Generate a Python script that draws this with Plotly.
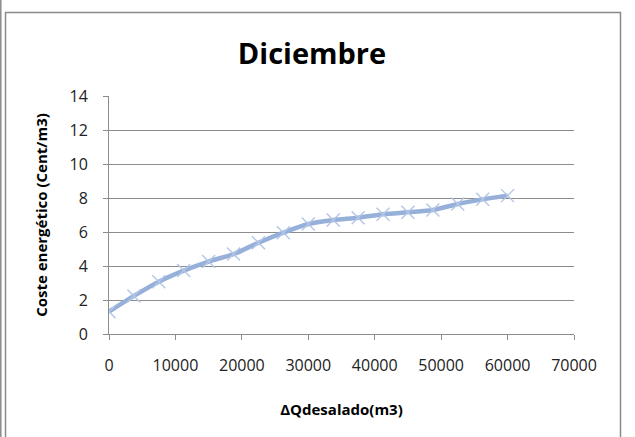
import plotly.graph_objects as go

# Desalinated volume increment (m3) and energy cost (cent/m3), December
q_desalado = [0, 3750, 7500, 11250, 15000, 18750, 22500, 26250, 30000,
              33750, 37500, 41250, 45000, 48750, 52500, 56250, 60000]
coste = [1.31, 2.24, 3.08, 3.73, 4.26, 4.70, 5.37, 5.96, 6.47,
         6.70, 6.84, 7.04, 7.16, 7.29, 7.65, 7.92, 8.14]

x_ticks = [0, 10000, 20000, 30000, 40000, 50000, 60000, 70000]
y_ticks = [0, 2, 4, 6, 8, 10, 12, 14]

W, H = 635, 437
L, R, T, B = 109, 61, 96, 103
PW, PH = W - L - R, H - T - B


def px(xp):
    return (xp - L) / PW


def py(yp):
    return (H - B - yp) / PH


FONT = "Open Sans"
GRID = "#8c8c8c"

fig = go.Figure()
fig.add_trace(go.Scatter(
    x=q_desalado, y=coste,
    mode="lines+markers",
    line=dict(color="#96b0da", width=4.5, shape="spline", smoothing=0.8),
    marker=dict(symbol="x-thin-open", size=13, color="#b3c6e6",
                line=dict(color="#b3c6e6", width=1.4)),
    showlegend=False,
))

fig.update_layout(
    width=W, height=H,
    margin=dict(l=L, r=R, t=T, b=B),
    paper_bgcolor="white", plot_bgcolor="white",
    font=dict(family=FONT, color="#222222", size=16),
    title=dict(text="<b>Diciembre</b>", x=px(312), xanchor="center",
               xref="paper", y=1 - 54 / H, yanchor="middle",
               font=dict(family=FONT, size=29, color="black")),
    xaxis=dict(
        range=[0, 70000], tickvals=x_ticks,
        ticktext=[str(v) for v in x_ticks],
        showgrid=False, zeroline=False,
        showline=True, linecolor=GRID, linewidth=1,
        ticks="outside", ticklen=5, tickcolor=GRID,
        ticklabelstandoff=12,
        tickfont=dict(size=16, color="#222222"),
        title=dict(text="<b>ΔQdesalado(m3)</b>", standoff=29,
                   font=dict(size=15, color="black")),
    ),
    yaxis=dict(
        range=[0, 14], tickvals=y_ticks,
        showgrid=True, gridcolor=GRID, gridwidth=1,
        zeroline=False,
        showline=True, linecolor=GRID, linewidth=1,
        ticks="outside", ticklen=5, tickcolor=GRID,
        ticklabelstandoff=12,
        tickfont=dict(size=16, color="#222222"),
        title=dict(text="<b>Coste energético (Cent/m3)</b>", standoff=18,
                   font=dict(size=15, color="black")),
    ),
    shapes=[
        # chart frame
        dict(type="rect", xref="paper", yref="paper",
             x0=px(5.5), x1=px(620.5), y0=py(460), y1=py(12.5),
             line=dict(color="#8a8a8a", width=1.5), fillcolor="rgba(0,0,0,0)",
             layer="below"),
        dict(type="line", xref="paper", yref="paper",
             x0=px(0.8), x1=px(0.8), y0=py(460), y1=py(-5),
             line=dict(color="#8a8a8a", width=1.5)),
    ],
)

fig.write_html("out.html")
